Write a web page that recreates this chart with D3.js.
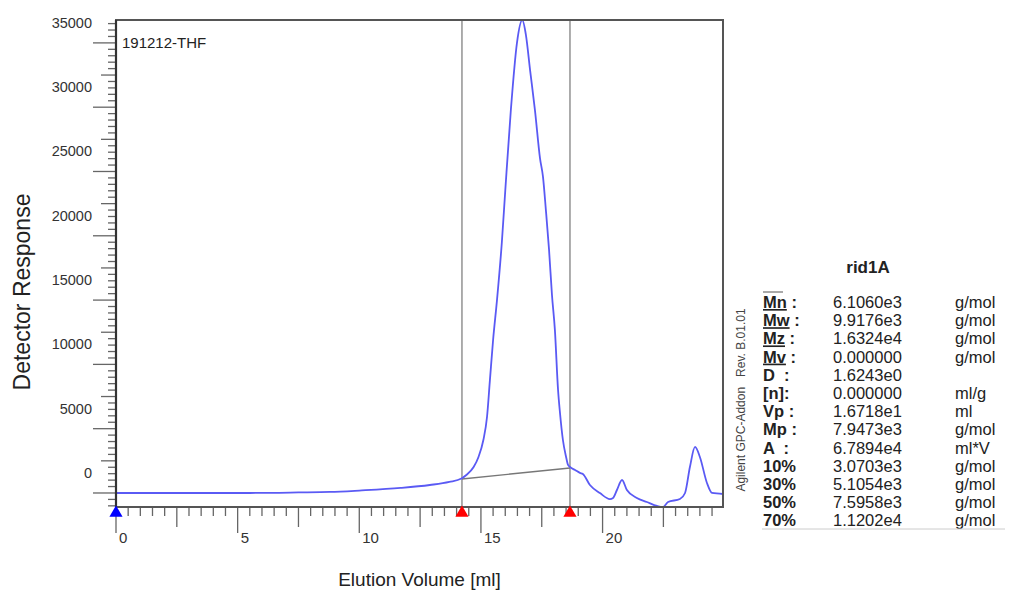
<!DOCTYPE html>
<html><head><meta charset="utf-8">
<script src="https://cdn.jsdelivr.net/npm/d3@7"></script>
<style>
body{margin:0;background:#fff}
svg{display:block}
text{font-family:"Liberation Sans",Arial,sans-serif}
</style>
</head><body>
<svg id="c" width="1010" height="592"></svg>
<script>
// ---- data ----
const elution = [0, 3.5, 5.5, 7.5, 8.8, 10.0, 11.7, 12.9, 13.7, 14.2, 14.4, 14.7, 14.9, 15.1, 15.25, 15.37, 15.5, 15.66, 15.86, 16.0, 16.23, 16.48, 16.7, 16.85, 17.02, 17.22, 17.43, 17.55, 17.67, 17.8, 17.92, 18.04, 18.17, 18.25, 18.37, 18.5, 18.58, 18.66, 18.87, 19.07, 19.19, 19.48, 19.89, 20.3, 20.43, 20.59, 20.8, 21.0, 21.41, 21.82, 22.24, 22.48, 22.69, 23.18, 23.39, 23.59, 23.8, 24.0, 24.29, 24.5, 24.95];
const response = [0, 0, 0, 40, 80, 190, 390, 620, 860, 1130, 1400, 2020, 2800, 4120, 5910, 8790, 11900, 15000, 19500, 23500, 29780, 34990, 36780, 35610, 32890, 29780, 26000, 24600, 22000, 18900, 15400, 12680, 8010, 6220, 4120, 2800, 2180, 2020, 1790, 1560, 1480, 620, 0, -470, -390, 230, 1010, 230, -390, -700, -1010, -1090, -700, -470, 0, 2020, 3580, 2800, 780, 0, -80];
const xTickLabels = [0, 5, 10, 15, 20];
const yTickLabels = [0, 5000, 10000, 15000, 20000, 25000, 30000, 35000];
const limitVolumes = [14.22, 18.66];
const limitResponses = [1090, 1940];
const startMarker = [0];
const sampleName = "191212-THF";
const detectorName = "rid1A";
const resultLabels = ["Mn", "Mw", "Mz", "Mv", "D  :", "[n]:", "Vp :", "Mp :", "A  :", "10%", "30%", "50%", "70%"];
const resultValues = ["6.1060e3", "9.9176e3", "1.6324e4", "0.000000", "1.6243e0", "0.000000", "1.6718e1", "7.9473e3", "6.7894e4", "3.0703e3", "5.1054e3", "7.5958e3", "1.1202e4"];
const resultUnits = ["g/mol", "g/mol", "g/mol", "g/mol", "", "ml/g", "ml", "g/mol", "ml*V", "g/mol", "g/mol", "g/mol", "g/mol"];
const underlined = [true, true, true, true, false, false, false, false, false, false, false, false, false];

// ---- layout ----
const svg = d3.select("#c");
const L = 116, R = 723, T = 20, B = 507;
const x = d3.scaleLinear().domain([0, 24.95]).range([L, R]);
const y = d3.scaleLinear().domain([-1090, 36780]).range([B, T]);

// y ticks
const yT = d3.range(-1000, 36501, 500);
svg.append("g").selectAll("line").data(yT).join("line")
  .attr("x1", d => L - (d % 5000 === 0 ? 23 : d % 2500 === 0 ? 15 : 8))
  .attr("x2", L)
  .attr("y1", d => y(d)).attr("y2", d => y(d))
  .attr("stroke", "#666").attr("stroke-width", 1.3);
svg.append("g").selectAll("text").data(yTickLabels).join("text")
  .attr("x", 92).attr("y", d => y(d) - 15)
  .attr("text-anchor", "end").attr("font-size", 14.5).attr("fill", "#333")
  .text(d => d);

// x ticks
const xT = d3.range(0, 24.51, 0.5);
svg.append("g").selectAll("line").data(xT).join("line")
  .attr("x1", d => x(d)).attr("x2", d => x(d))
  .attr("y1", B)
  .attr("y2", d => B + (Math.abs(d % 5) < 1e-6 ? 26 : Math.abs(d % 2.5) < 1e-6 ? 20 : 9))
  .attr("stroke", "#666").attr("stroke-width", 1.3);
svg.append("g").selectAll("text").data(xTickLabels).join("text")
  .attr("x", d => x(d) + 3).attr("y", 543)
  .attr("font-size", 15).attr("fill", "#333")
  .text(d => d);

// limit lines
svg.append("g").selectAll("line").data(limitVolumes).join("line")
  .attr("x1", d => x(d)).attr("x2", d => x(d))
  .attr("y1", T).attr("y2", B)
  .attr("stroke", "#999").attr("stroke-width", 1.6);

// baseline between limits
svg.append("line")
  .attr("x1", x(limitVolumes[0])).attr("y1", y(limitResponses[0]))
  .attr("x2", x(limitVolumes[1])).attr("y2", y(limitResponses[1]))
  .attr("stroke", "#777").attr("stroke-width", 1.4);

// curve
const pts = elution.map((v, i) => [v, response[i]]);
svg.append("path").datum(pts)
  .attr("fill", "none").attr("stroke", "#5a5af4").attr("stroke-width", 1.8)
  .attr("d", d3.line().x(d => x(d[0])).y(d => y(d[1])).curve(d3.curveMonotoneX));

// frame
svg.append("rect").attr("x", L).attr("y", T).attr("width", R - L).attr("height", B - T)
  .attr("fill", "none").attr("stroke", "#555").attr("stroke-width", 2);
svg.append("line").attr("x1", L).attr("x2", L).attr("y1", T).attr("y2", B)
  .attr("stroke", "#333").attr("stroke-width", 2.2);

// markers (triangles)
const tri = d3.symbol().type(d3.symbolTriangle).size(75);
svg.append("g").selectAll("path").data(startMarker).join("path")
  .attr("d", tri).attr("transform", d => `translate(${x(d)},${B + 6})`).attr("fill", "#0000ff");
svg.append("g").selectAll("path").data(limitVolumes).join("path")
  .attr("d", tri).attr("transform", d => `translate(${x(d)},${B + 6})`).attr("fill", "#ff0000");

// sample name
svg.append("text").attr("x", 122).attr("y", 48).attr("font-size", 15).attr("fill", "#222").text(sampleName);

// axis titles
svg.append("text").attr("x", 419.5).attr("y", 586).attr("text-anchor", "middle")
  .attr("font-size", 19).attr("fill", "#222").text("Elution Volume [ml]");
svg.append("text").attr("transform", "translate(30,292) rotate(-90)").attr("text-anchor", "middle")
  .attr("font-size", 23).attr("fill", "#222").text("Detector Response");

// results table
svg.append("text").attr("x", 868).attr("y", 273).attr("text-anchor", "middle")
  .attr("font-size", 17).attr("font-weight", "bold").attr("fill", "#222").text(detectorName);
svg.append("line").attr("x1", 763).attr("x2", 783).attr("y1", 292).attr("y2", 292)
  .attr("stroke", "#555").attr("stroke-width", 1);
const rowY = i => 308 + i * 18.2;
const lab = svg.append("g").attr("font-size", 16.5).attr("fill", "#222");
resultLabels.forEach((t, i) => {
  const tx = lab.append("text").attr("x", 763).attr("y", rowY(i)).attr("font-weight", "bold")
    .style("white-space", "pre");
  if (underlined[i]) {
    tx.append("tspan").style("text-decoration", "underline").text(t);
    tx.append("tspan").text(" :");
  } else tx.text(t);
  lab.append("text").attr("x", 833).attr("y", rowY(i)).text(resultValues[i]);
  lab.append("text").attr("x", 955).attr("y", rowY(i)).text(resultUnits[i]);
});
svg.append("line").attr("x1", 762).attr("x2", 1005).attr("y1", 529).attr("y2", 529)
  .attr("stroke", "#ccc").attr("stroke-width", 1);
svg.append("text").attr("transform", "translate(745,400) rotate(-90)").attr("text-anchor", "middle")
  .attr("font-size", 12).attr("fill", "#444").style("white-space", "pre")
  .text("Agilent GPC-Addon   Rev. B.01.01");
</script>
</body></html>
